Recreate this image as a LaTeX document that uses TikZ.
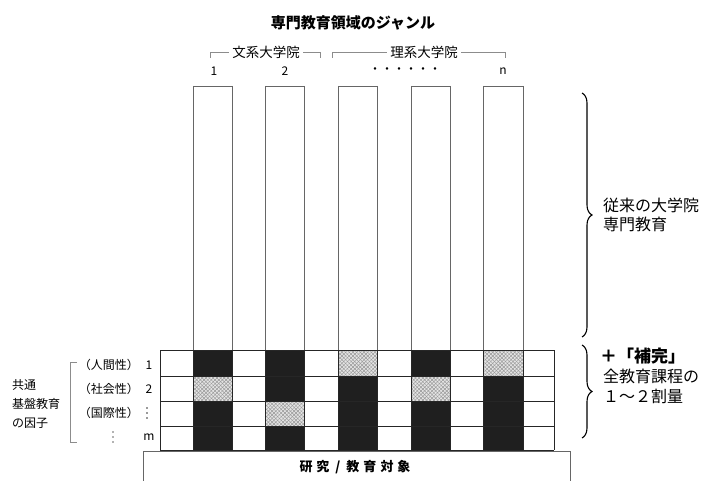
\documentclass[tikz,border=0pt]{standalone}
\usepackage{fontspec}
\setmainfont{Noto Sans CJK JP}
\usetikzlibrary{patterns.meta,decorations.pathreplacing}
\tikzset{
  bar/.style={draw=black!60,line width=0.9pt},
  gridline/.style={draw=black!85,line width=0.8pt},
  brk/.style={draw=black!45,line width=0.7pt},
  blackcell/.style={fill=black!88},
  hatchcell/.style={fill=gray!20,
    postaction={pattern={Lines[angle=45,distance=2.6pt,line width=0.5pt]},pattern color=gray!80},
    postaction={pattern={Lines[angle=-45,distance=2.6pt,line width=0.5pt]},pattern color=gray!80}},
  lbl/.style={inner sep=0pt,font=\fontsize{12}{14}\selectfont},
  rlbl/.style={inner sep=0pt,anchor=west,font=\fontsize{16}{18}\selectfont},
  bigbrace/.style={draw=black,line width=1.1pt,decorate,decoration={brace,amplitude=10pt}},
}
\begin{document}
\begin{tikzpicture}[x=1pt,y=-1pt]
\useasboundingbox (0,0) rectangle (715,481);

% title
\node[lbl,font=\fontsize{15}{17}\selectfont\bfseries] (title) at (353,23) {専門教育領域のジャンル};

% top group brackets
\draw[brk] (210,58) -- (210,52) -- (320,52) -- (320,58);
\draw[brk] (332,58) -- (332,52) -- (505,52) -- (505,58);
\node[lbl,fill=white,inner xsep=3pt,font=\fontsize{13.5}{15}\selectfont] (bunkei) at (266,52) {文系大学院};
\node[lbl,fill=white,inner xsep=3pt,font=\fontsize{13.5}{15}\selectfont] (rikei) at (424,52) {理系大学院};

% column numbers
\node[lbl] (n1) at (214,71) {1};
\node[lbl] (n2) at (285,71) {2};
\node[lbl] (ndots) at (405,71) {・・・・・・};
\node[lbl] (nn) at (503,71) {n};

% tall bars
\foreach \l/\r in {193/232,265/304,338/377,411/450,483/523}
  \draw[bar] (\l,86) -- (\l,350) (\r,86) -- (\r,350) (\l,86) -- (\r,86);

% cells
\foreach \l/\r in {193/232,265/304,338/377,411/450,483/523}
  \fill[blackcell] (\l,350) rectangle (\r,450);
\path[hatchcell] (193,376) rectangle (232,401);
\path[hatchcell] (265,401) rectangle (304,426);
\path[hatchcell] (338,350) rectangle (377,376);
\path[hatchcell] (411,376) rectangle (450,401);
\path[hatchcell] (483,350) rectangle (523,376);

% grid
\foreach \x in {160,193,232,265,304,338,377,411,450,483,523,554}
  \draw[gridline] (\x,350) -- (\x,450);
\foreach \y in {350,376,401,426,450}
  \draw[gridline] (160,\y) -- (554,\y);

% bottom box
\draw[draw=black!60,line width=0.9pt] (143,481) -- (143,451) -- (570,451) -- (570,481);
\node[lbl,font=\fontsize{13}{15}\selectfont\bfseries] (base) at (355,467)
  {研\hspace{4pt}究\hspace{6pt}/\hspace{6pt}教\hspace{4pt}育\hspace{4pt}対\hspace{4pt}象};

% left labels
\node[lbl,anchor=west] (f1) at (12,385) {共通};
\node[lbl,anchor=west] (f2) at (12,404) {基盤教育};
\node[lbl,anchor=west] (f3) at (12,423) {の因子};
\draw[brk] (77,362) -- (70,362) -- (70,442) -- (77,442);

\node[lbl,anchor=east] (r1) at (139,365) {（人間性）};
\node[lbl,anchor=east] (r2) at (139,389) {（社会性）};
\node[lbl,anchor=east] (r3) at (139,413) {（国際性）};
\node[lbl] (k1) at (149,365) {1};
\node[lbl] (k2) at (149,389) {2};
\node[lbl] (km) at (149,437) {m};
\foreach \dy in {-5,0,5} {
  \fill[black!80] (147,413+\dy) circle (0.8);
  \fill[black!60] (113,437+\dy) circle (0.8);
}

% right braces and labels
\draw[bigbrace] (582,93) -- (582,337);
\node[rlbl] (t1) at (603,205) {従来の大学院};
\node[rlbl] (t2) at (603,224) {専門教育};
\draw[bigbrace] (582,345) -- (582,438);
\node[rlbl,font=\fontsize{17}{19}\selectfont\bfseries] (t3) at (600,356) {＋「補完」};
\node[rlbl] (t4) at (603,376) {全教育課程の};
\node[rlbl] (t5) at (603,396) {１～２割量};
\end{tikzpicture}
\end{document}
